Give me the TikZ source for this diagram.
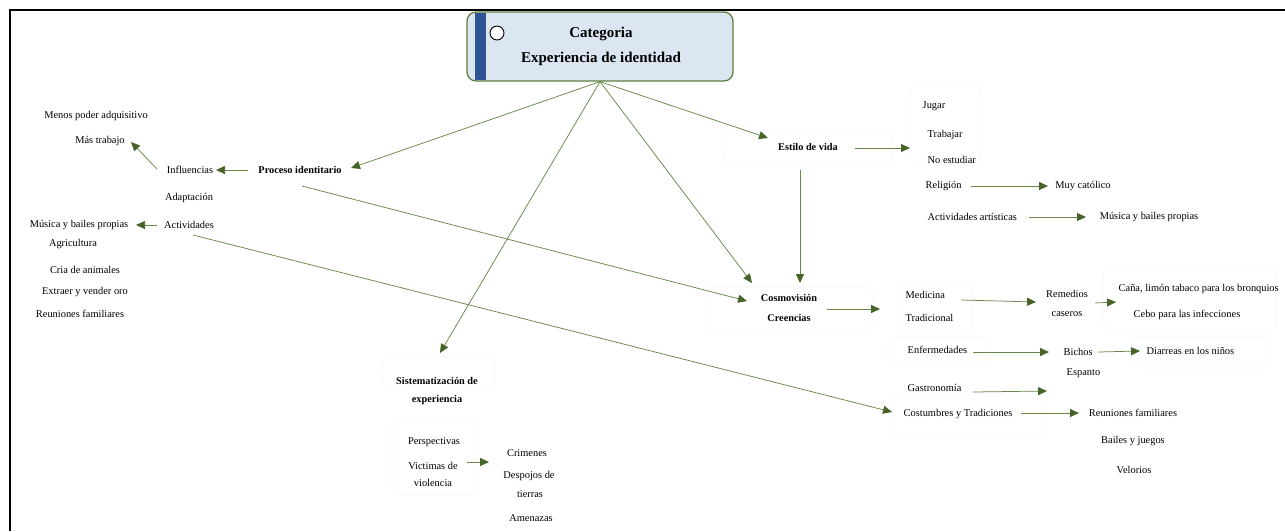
\documentclass[tikz,border=0pt]{standalone}
\usepackage{fontspec}
\setmainfont{Liberation Serif}
\usetikzlibrary{arrows.meta,calc}
\definecolor{lnc}{RGB}{105,135,75}
\definecolor{hdc}{RGB}{70,100,40}
\definecolor{catfill}{RGB}{220,230,242}
\definecolor{catedge}{RGB}{95,125,65}
\definecolor{catbar}{RGB}{47,84,150}
\definecolor{ghostc}{RGB}{246,246,246}
\begin{document}
\begin{tikzpicture}[x=1pt,y=-1pt,
  lbl/.style={inner sep=1.5pt, font=\fontsize{10.4}{19}\selectfont, align=center},
  lbll/.style={lbl, anchor=west, align=left},
  bld/.style={inner sep=1.5pt, font=\fontsize{10.3}{20}\selectfont\bfseries, align=center},
  ghost/.style={draw=ghostc, line width=0.6pt, rounded corners=8pt},
  conn/.style={draw=lnc, line width=0.75pt, -{Triangle[length=9pt,width=8pt,color=hdc]}}]
\useasboundingbox (0,0) rectangle (1285,531);
% frame
\draw[line width=1.8pt] (10,531) -- (10,10) -- (1285,10);

% very faint group outlines
\draw[ghost] (723,130) rectangle (892,165);
\draw[ghost] (910,85) rectangle (981,162);
\draw[ghost] (706,287) rectangle (873,330);
\draw[ghost] (898,283) rectangle (972,333);
\draw[ghost] (888,337) rectangle (987,365);
\draw[ghost] (1103,268) rectangle (1276,330);
\draw[ghost] (1133,337) rectangle (1269,368);
\draw[ghost] (893,392) rectangle (1043,436);
\draw[ghost] (382,357) rectangle (495,387);
\draw[ghost] (392,418) rectangle (475,495);

% central category
\node[draw=catedge, line width=1.3pt, fill=catfill, rounded corners=9pt,
      minimum width=266pt, minimum height=69pt, inner sep=0] (cat) at (600,46.5) {};
\fill[catbar] (475,12.7) rectangle (486,80.3);
\node[circle, draw=black, line width=0.9pt, fill=white, minimum size=14pt, inner sep=0] (ring) at (497,33) {};
\node[font=\fontsize{15}{25}\selectfont\bfseries, align=center] (cattxt) at (601,46) {Categoria\\Experiencia de identidad};

% left group
\node[bld] (proc) at (300,170) {Proceso identitario};
\node[lbl] (infl) at (190,170) {Influencias};
\node[lbl] (mas) at (100,141) {Más trabajo};
\node[lbl] (menos) at (96,116) {Menos poder adquisitivo};
\node[lbl] (adap) at (189,198) {Adaptación};
\node[lbl] (act) at (189,225) {Actividades};
\node[lbl] (mus1) at (79,225) {Música y bailes propias};
\node[lbl] (agri) at (73,244) {Agricultura};
\node[lbl] (cria) at (85,270) {Cria de animales};
\node[lbl] (extr) at (85,292) {Extraer y vender oro};
\node[lbl] (reu1) at (80,314) {Reuniones familiares};

% estilo de vida
\node[bld] (est) at (808,147) {Estilo de vida};
\coordinate (estend) at (910,148);
\node[lbll] (jug) at (921,106) {Jugar};
\node[lbll] (trab) at (926,135) {Trabajar};
\node[lbll] (noest) at (926,160) {No estudiar};
\node[lbll] (rel) at (924,186) {Religión};
\node[lbl] (muy) at (1083,186) {Muy católico};
\node[lbll] (actart) at (926,217) {Actividades artísticas};
\node[lbl] (mus2) at (1149,217) {Música y bailes propias};

% cosmovision
\node[bld, font=\fontsize{10.3}{20}\selectfont\bfseries] (cosmo) at (789,308) {Cosmovisión\\Creencias};
\node[lbll, font=\fontsize{10.4}{23}\selectfont] (med) at (904,306) {Medicina\\Tradicional};
\node[lbl] (rem) at (1067,303) {Remedios\\caseros};
\node[lbll] (cana) at (1117,289) {Caña, limón tabaco para los bronquios};
\node[lbl] (cebo) at (1187,315) {Cebo para las infecciones};
\node[lbll] (enf) at (906,350) {Enfermedades};
\node[lbll] (bich) at (1062,352) {Bichos};
\node[lbll] (diar) at (1145,351) {Diarreas en los niños};
\node[lbll] (esp) at (1065,373) {Espanto};
\node[lbll] (gast) at (906,388) {Gastronomía};
\coordinate (gend) at (1047,391);
\node[lbll] (cost) at (902,414) {Costumbres y Tradiciones};
\node[lbl] (reu2) at (1133,413) {Reuniones familiares};
\node[lbl] (bail) at (1133,441) {Bailes y juegos};
\node[lbl] (vel) at (1134,470) {Velorios};

% sistematizacion
\node[bld, font=\fontsize{10.3}{18}\selectfont\bfseries] (sist) at (437,391) {Sistematización de\\experiencia};
\node[lbl] (persp) at (434,442) {Perspectivas};
\node[lbl] (vict) at (433,466) {Victimas de};
\node[lbl] (viol) at (433,483) {violencia};
\coordinate (sistend) at (489,462);
\node[lbl] (crim) at (527,453) {Crimenes};
\node[lbl] (desp) at (529,476) {Despojos de};
\node[lbl] (tier) at (530,494) {tierras};
\node[lbl] (amen) at (531,518) {Amenazas};

% connectors from the category
\draw[conn] (cat.south) -- ($(proc.center)+(51,-2)$);
\draw[conn] (cat.south) -- ($(est.center)+(-40,-9)$);
\draw[conn] (cat.south) -- ($(cosmo.center)+(-37,-25)$);
\draw[conn] (cat.south) -- ($(sist.center)+(3,-38)$);

% other connectors
\draw[conn] ($(proc.center)+(-52,0)$) -- ($(infl.center)+(26,0)$);
\draw[conn] ($(infl.center)+(-33,-1)$) -- ($(mas.center)+(31,1)$);
\draw[conn] ($(act.center)+(-32,0)$) -- ($(mus1.center)+(57,0)$);
\draw[conn] ($(proc.center)+(2,16)$) -- ($(cosmo.center)+(-42,-7)$);
\draw[conn] ($(act.center)+(4,10)$) -- ($(cost.west)+(-10,-2)$);
\draw[conn] ($(est.center)+(-8,23)$) -- ($(cosmo.center)+(11,-25)$);
\draw[conn] ($(est.center)+(47,1)$) -- (estend);
\draw[conn] ($(rel.west)+(47,0)$) -- ($(muy.center)+(-35,0)$);
\draw[conn] ($(actart.west)+(103,0)$) -- ($(mus2.center)+(-63,0)$);
\draw[conn] ($(cosmo.center)+(38,1)$) -- ($(med.west)+(-24,3)$);
\draw[conn] ($(med.west)+(57,-6)$) -- ($(rem.center)+(-31,-1)$);
\draw[conn] ($(rem.center)+(28,0)$) -- ($(cana.west)+(-1,13)$);
\draw[conn] ($(enf.west)+(67,2)$) -- ($(bich.west)+(-13,0)$);
\draw[conn] ($(bich.west)+(36,0)$) -- ($(diar.west)+(-5,0)$);
\draw[conn] ($(gast.west)+(67,4)$) -- (gend);
\draw[conn] ($(cost.west)+(119,-1)$) -- ($(reu2.center)+(-54,0)$);
\draw[conn] ($(vict.center)+(34,-4)$) -- (sistend);
\end{tikzpicture}
\end{document}
